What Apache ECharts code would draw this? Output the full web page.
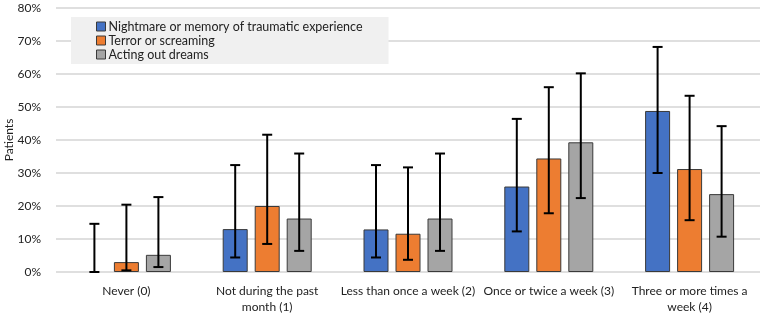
<!DOCTYPE html>
<html>
<head>
<meta charset="utf-8">
<script src="https://cdn.jsdelivr.net/npm/echarts@6/dist/echarts.min.js"></script>
<style>
  html, body { margin: 0; padding: 0; background: #fff; }
  #chart { width: 763px; height: 313px; }
</style>
</head>
<body>
<div id="chart"></div>
<script>
const categories = ['Never (0)', 'Not during the past\nmonth (1)', 'Less than once a week (2)', 'Once or twice a week (3)', 'Three or more times a\nweek (4)']
const seriesNames = ['Nightmare or memory of traumatic experience', 'Terror or screaming', 'Acting out dreams']

// percent of patients
const nightmare = [0, 13, 12.9, 25.9, 48.8]
const terror = [3, 20, 11.6, 34.4, 31.2]
const acting = [5.2, 16.2, 16.2, 39.3, 23.6]

// error bar bounds [low, high]
const nightmareErr = [[0, 14.6], [4.4, 32.4], [4.4, 32.4], [12.3, 46.4], [30, 68.2]]
const terrorErr = [[0.5, 20.4], [8.5, 41.6], [3.7, 31.7], [17.8, 56], [15.7, 53.4]]
const actingErr = [[1.5, 22.7], [6.4, 35.9], [6.4, 35.9], [22.4, 60.2], [10.7, 44.2]]

const colors = ['#4472C4', '#ED7D31', '#A5A5A5']
const font = 'Lato'
const barW = 25
const barGapPx = 7

const chart = echarts.init(document.getElementById('chart'))

const barSeries = [nightmare, terror, acting].map((vals, i) => ({
  name: seriesNames[i],
  type: 'bar',
  barWidth: barW,
  barGap: (barGapPx / barW * 100) + '%',
  itemStyle: { color: colors[i], borderColor: '#3a3a3a', borderWidth: 1 },
  // a zero-height bar should not leave its border on the baseline
  data: vals.map(v => v === 0 ? { value: v, itemStyle: { borderWidth: 0 } } : v),
}))

const errSeries = [nightmareErr, terrorErr, actingErr].map((errs, i) => ({
  type: 'custom',
  name: seriesNames[i] + ' err',
  z: 10,
  silent: true,
  data: errs.map((e, j) => [j, e[0], e[1]]),
  renderItem: (params, api) => {
    const x = api.value(0)
    const lo = api.coord([x, api.value(1)])
    const hi = api.coord([x, api.value(2)])
    const offset = (i - 1) * (barW + barGapPx)
    const cx = lo[0] + offset
    const cap = 5
    const style = { stroke: '#000', lineWidth: 2 }
    return {
      type: 'group',
      children: [
        { type: 'line', shape: { x1: cx, y1: lo[1], x2: cx, y2: hi[1] }, style },
        { type: 'line', shape: { x1: cx - cap, y1: hi[1], x2: cx + cap, y2: hi[1] }, style },
        { type: 'line', shape: { x1: cx - cap, y1: lo[1], x2: cx + cap, y2: lo[1] }, style },
      ],
    }
  },
}))

chart.setOption({
  animation: false,
  textStyle: { fontFamily: font },
  grid: { left: 56, right: 3, top: 8, bottom: 41, outerBoundsMode: 'none' },
  legend: {
    data: seriesNames,
    orient: 'vertical',
    left: 71,
    top: 17,
    backgroundColor: '#f0f0f0',
    padding: [3, 26, 3, 25],
    itemWidth: 9,
    itemHeight: 9,
    itemGap: 1,
    icon: 'rect',
    textStyle: { fontFamily: font, fontSize: 12.5, color: '#222', padding: [0, 0, 0, -2] },
    itemStyle: { borderColor: '#3a3a3a', borderWidth: 1 },
  },
  xAxis: {
    type: 'category',
    data: categories,
    axisLine: { show: false },
    axisTick: { show: false },
    axisLabel: { color: '#222', fontSize: 12, margin: 11, lineHeight: 16, interval: 0 },
  },
  yAxis: {
    type: 'value',
    min: 0,
    max: 80,
    interval: 10,
    name: 'Patients',
    nameLocation: 'middle',
    nameGap: 41,
    nameMoveOverlap: false,
    nameTextStyle: { color: '#222', fontSize: 12 },
    axisLabel: { formatter: '{value}%', color: '#222', fontSize: 12, margin: 15 },
    splitLine: { lineStyle: { color: '#d4d4d4', width: 1.5 } },
  },
  series: [...barSeries, ...errSeries],
})
</script>
</body>
</html>
